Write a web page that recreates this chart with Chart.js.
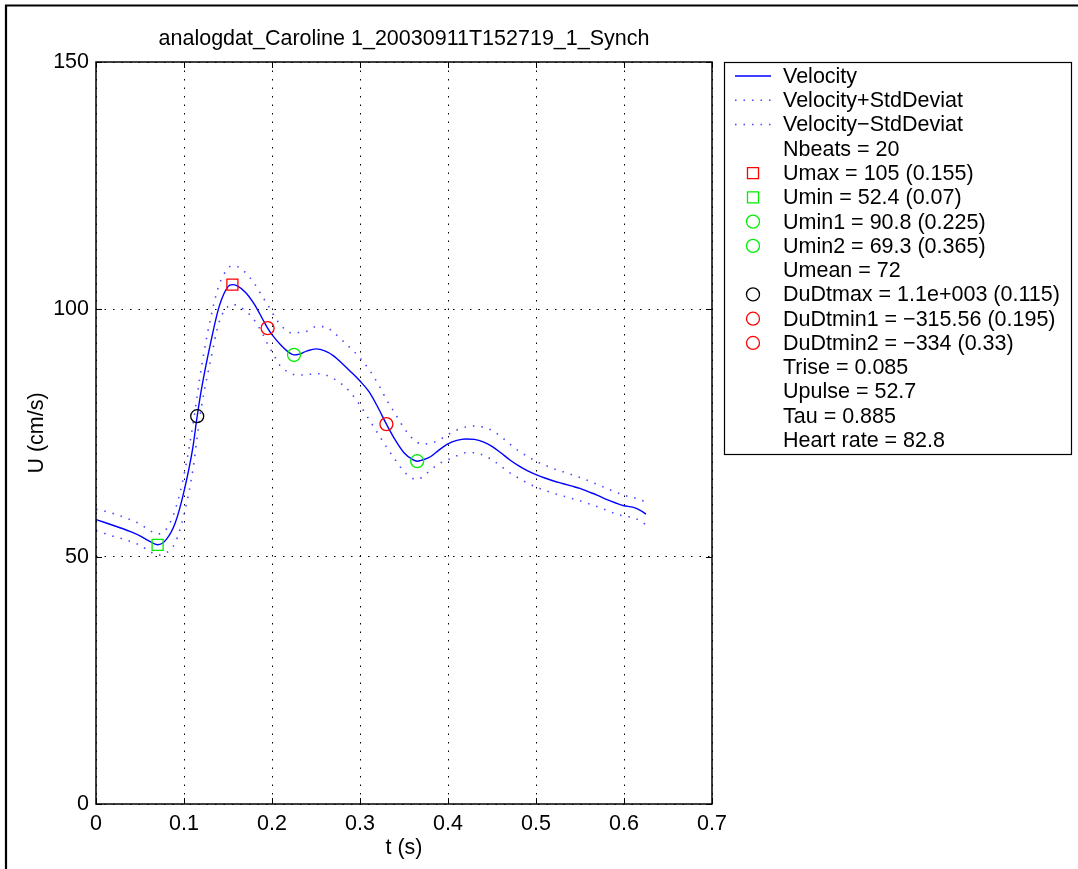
<!DOCTYPE html>
<html>
<head>
<meta charset="utf-8">
<title>analogdat_Caroline 1_20030911T152719_1_Synch</title>
<script src="https://cdn.jsdelivr.net/npm/chart.js@4.4.1/dist/chart.umd.min.js"></script>
<style>
  html, body { margin: 0; padding: 0; background: #fff; }
  canvas { display: block; }
</style>
</head>
<body>
<canvas id="velocityChart" width="1078" height="869"></canvas>
<script>
// ensemble averaged velocity over one beat (t in s, U in cm/s)
const times = [0, 0.01, 0.02, 0.03, 0.04, 0.05, 0.06, 0.07, 0.08, 0.09,
  0.10, 0.11, 0.115, 0.12, 0.13, 0.14, 0.15, 0.155, 0.16, 0.17,
  0.18, 0.19, 0.195, 0.20, 0.21, 0.22, 0.225, 0.23, 0.24, 0.25,
  0.26, 0.27, 0.28, 0.29, 0.30, 0.31, 0.32, 0.33, 0.34, 0.35,
  0.36, 0.365, 0.37, 0.38, 0.39, 0.40, 0.41, 0.42, 0.43, 0.44,
  0.45, 0.46, 0.47, 0.48, 0.49, 0.50, 0.51, 0.52, 0.53, 0.54,
  0.55, 0.56, 0.57, 0.58, 0.59, 0.60, 0.61, 0.62, 0.625];

const velocity = [57.5, 56.9, 56.3, 55.7, 55.0, 54.2, 53.2, 52.4, 53.5, 56.8,
  63.2, 72.0, 78.4, 84.0, 93.0, 100.6, 104.6, 105.0, 104.8, 103.4,
  101.0, 97.8, 96.2, 94.9, 92.8, 91.2, 90.8, 90.9, 91.6, 92.0,
  91.6, 90.6, 89.0, 87.3, 85.5, 83.4, 80.3, 76.8, 73.6, 71.0,
  69.6, 69.3, 69.5, 70.2, 71.6, 72.8, 73.5, 73.8, 73.7, 73.2,
  72.3, 71.0, 69.6, 68.4, 67.4, 66.6, 65.9, 65.3, 64.8, 64.3,
  63.8, 63.1, 62.4, 61.6, 60.9, 60.3, 60.0, 59.2, 58.6];

const velocityPlusStd = [59.6, 59.2, 58.7, 58.1, 57.4, 56.6, 55.4, 54.6, 55.6, 59.5,
  66.5, 76.5, 82.5, 88.5, 98.0, 105.0, 108.3, 108.8, 108.7, 107.4,
  105.2, 102.3, 101.0, 99.4, 96.8, 95.3, 95.2, 95.3, 95.6, 96.5,
  96.5, 95.3, 93.7, 92.0, 90.2, 87.9, 85.1, 81.8, 78.9, 76.0,
  73.8, 73.1, 72.8, 72.9, 73.6, 74.7, 75.6, 76.2, 76.4, 76.2,
  75.5, 74.3, 72.8, 71.4, 70.3, 69.3, 68.5, 67.8, 67.2, 66.6,
  66.0, 65.3, 64.6, 63.8, 63.1, 62.4, 62.0, 61.4, 60.9];

const velocityMinusStd = [55.2, 54.7, 54.1, 53.6, 53.0, 52.3, 51.2, 50.3, 50.8, 52.8,
  58.5, 67.5, 74.2, 80.5, 89.5, 97.5, 100.6, 101.0, 100.8, 99.7,
  97.8, 94.8, 93.0, 91.4, 88.4, 87.2, 86.8, 86.7, 86.8, 87.0,
  86.8, 86.0, 84.8, 83.0, 80.6, 77.8, 75.0, 72.2, 69.6, 67.2,
  65.8, 65.6, 66.0, 67.5, 68.8, 69.6, 70.4, 71.0, 71.0, 70.5,
  69.6, 68.3, 67.0, 65.9, 64.9, 64.1, 63.4, 62.8, 62.3, 61.8,
  61.3, 60.7, 60.1, 59.4, 58.7, 58.2, 57.9, 57.1, 56.4];

// characteristic points [t, U]
const umaxPoint = [0.155, 105];
const uminPoint = [0.07, 52.4];
const umin1Point = [0.225, 90.8];
const umin2Point = [0.365, 69.3];
const dudtmaxPoint = [0.115, 78.4];
const dudtmin1Point = [0.195, 96.2];
const dudtmin2Point = [0.33, 76.8];

// legend rows, top to bottom
const legendRows = ['Velocity', 'Velocity+StdDeviat', 'Velocity\u2212StdDeviat', 'Nbeats = 20',
  'Umax = 105 (0.155)', 'Umin = 52.4 (0.07)', 'Umin1 = 90.8 (0.225)', 'Umin2 = 69.3 (0.365)',
  'Umean = 72', 'DuDtmax = 1.1e+003 (0.115)', 'DuDtmin1 = \u2212315.56 (0.195)',
  'DuDtmin2 = \u2212334 (0.33)', 'Trise = 0.085', 'Upulse = 52.7', 'Tau = 0.885', 'Heart rate = 82.8'];

const xTicks = [0, 0.1, 0.2, 0.3, 0.4, 0.5, 0.6, 0.7];
const yTicks = [0, 50, 100, 150];

const chartTitle = 'analogdat_Caroline 1_20030911T152719_1_Synch';
const FONT = '"Liberation Sans", Arial, Helvetica, sans-serif';
const FONT_SIZE = 21.5;
const DOTS = [1.5, 7];

const toXY = (ys) => times.map((t, i) => ({ x: t, y: ys[i] }));

function marker(label, p, style, color, radius) {
  return {
    label: label, data: [{ x: p[0], y: p[1] }], showLine: false, order: 0,
    pointStyle: style, pointRadius: radius, pointBorderColor: color,
    pointBackgroundColor: 'rgba(0,0,0,0)', pointBorderWidth: 1.3
  };
}

function curve(label, ys, dash) {
  return {
    label: label, data: toXY(ys), order: 1, borderColor: dash.length ? 'rgba(40,40,255,0.85)' : '#0000ff',
    borderWidth: dash.length ? 1.6 : 1.4, borderDash: dash, pointRadius: 0,
    cubicInterpolationMode: 'monotone', fill: false
  };
}

const datasets = [
  curve(legendRows[0], velocity, []),
  curve(legendRows[1], velocityPlusStd, DOTS),
  curve(legendRows[2], velocityMinusStd, DOTS),
  marker(legendRows[4], umaxPoint, 'rect', '#ff0000', 7.8),
  marker(legendRows[5], uminPoint, 'rect', '#00ee00', 7.8),
  marker(legendRows[6], umin1Point, 'circle', '#00ee00', 6.5),
  marker(legendRows[7], umin2Point, 'circle', '#00ee00', 6.5),
  marker(legendRows[9], dudtmaxPoint, 'circle', '#000000', 6.5),
  marker(legendRows[10], dudtmin1Point, 'circle', '#ff0000', 6.5),
  marker(legendRows[11], dudtmin2Point, 'circle', '#ff0000', 6.5)
];

// frame, title, axes box with inward ticks, and the legend box
const decorations = {
  id: 'decorations',
  afterDraw(chart) {
    const ctx = chart.ctx;
    const a = chart.chartArea;
    const xs = chart.scales.x, ys = chart.scales.y;
    ctx.save();

    // figure frame (top and left edges)
    ctx.strokeStyle = '#000';
    ctx.lineWidth = 2.2;
    ctx.beginPath();
    ctx.moveTo(6, 869);
    ctx.lineTo(6, 5.5);
    ctx.lineTo(1078, 5.5);
    ctx.stroke();

    // title
    ctx.fillStyle = '#000';
    ctx.font = FONT_SIZE + 'px ' + FONT;
    ctx.textAlign = 'center';
    ctx.textBaseline = 'middle';
    ctx.fillText(chartTitle, (a.left + a.right) / 2, 39);

    // axes box
    ctx.lineWidth = 1.5;
    ctx.strokeRect(a.left, a.top, a.right - a.left, a.bottom - a.top);

    // tick marks pointing inwards
    ctx.lineWidth = 1;
    ctx.beginPath();
    xTicks.forEach(v => {
      const px = Math.round(xs.getPixelForValue(v)) + 0.5;
      ctx.moveTo(px, a.bottom); ctx.lineTo(px, a.bottom - 6);
      ctx.moveTo(px, a.top); ctx.lineTo(px, a.top + 6);
    });
    yTicks.forEach(v => {
      const py = Math.round(ys.getPixelForValue(v)) + 0.5;
      ctx.moveTo(a.left, py); ctx.lineTo(a.left + 6, py);
      ctx.moveTo(a.right, py); ctx.lineTo(a.right - 6, py);
    });
    ctx.stroke();

    // legend
    const box = { left: 724, top: 62, right: 1071, bottom: 454 };
    ctx.fillStyle = '#fff';
    ctx.fillRect(box.left, box.top, box.right - box.left, box.bottom - box.top);
    ctx.strokeStyle = '#000';
    ctx.lineWidth = 1.2;
    ctx.strokeRect(box.left + 0.5, box.top + 0.5, box.right - box.left, box.bottom - box.top);

    ctx.font = FONT_SIZE + 'px ' + FONT;
    ctx.textAlign = 'left';
    ctx.textBaseline = 'middle';
    legendRows.forEach((text, i) => {
      const y = box.top + 14 + i * 24.27;
      const ds = chart.data.datasets.find(d => d.label === text);
      if (ds) {
        ctx.save();
        if (ds.showLine === false) {
          ctx.strokeStyle = ds.pointBorderColor;
          ctx.fillStyle = 'rgba(0,0,0,0)';
          ctx.lineWidth = ds.pointBorderWidth;
          Chart.helpers.drawPoint(ctx, { pointStyle: ds.pointStyle, radius: ds.pointRadius, borderWidth: ds.pointBorderWidth, rotation: 0 }, 753, y);
        } else {
          ctx.strokeStyle = ds.borderColor;
          ctx.lineWidth = ds.borderWidth;
          ctx.setLineDash(ds.borderDash);
          ctx.beginPath();
          ctx.moveTo(735, y);
          ctx.lineTo(771, y);
          ctx.stroke();
        }
        ctx.restore();
      }
      ctx.fillStyle = '#000';
      ctx.fillText(text, 783, y + 1);
    });
    ctx.restore();
  }
};

new Chart(document.getElementById('velocityChart'), {
  type: 'line',
  data: { datasets: datasets },
  options: {
    responsive: false,
    animation: false,
    devicePixelRatio: 1,
    events: [],
    layout: { padding: { left: 0, top: 62, right: 366, bottom: 0 } },
    plugins: { legend: { display: false }, title: { display: false }, tooltip: { enabled: false } },
    scales: {
      x: {
        type: 'linear', min: 0, max: 0.7,
        afterFit(scale) { scale.height = 65; },
        afterBuildTicks(scale) { scale.ticks = xTicks.map(v => ({ value: v })); },
        ticks: {
          color: '#000', padding: 7, maxRotation: 0,
          font: { family: FONT, size: FONT_SIZE },
          callback: v => String(+v.toFixed(1))
        },
        grid: { color: '#000', lineWidth: 1, drawTicks: false },
        border: { display: false, dash: DOTS },
        title: { display: true, text: 't (s)', color: '#000', font: { family: FONT, size: FONT_SIZE }, padding: { top: 0, bottom: 8 } }
      },
      y: {
        type: 'linear', min: 0, max: 150,
        afterFit(scale) { scale.width = 96; },
        afterBuildTicks(scale) { scale.ticks = yTicks.map(v => ({ value: v })); },
        ticks: {
          color: '#000', padding: 7,
          font: { family: FONT, size: FONT_SIZE }
        },
        grid: { color: '#000', lineWidth: 1, drawTicks: false },
        border: { display: false, dash: DOTS },
        title: { display: true, text: 'U (cm/s)', color: '#000', font: { family: FONT, size: FONT_SIZE }, padding: { top: 24, bottom: 0 } }
      }
    }
  },
  plugins: [decorations]
});
</script>
</body>
</html>
